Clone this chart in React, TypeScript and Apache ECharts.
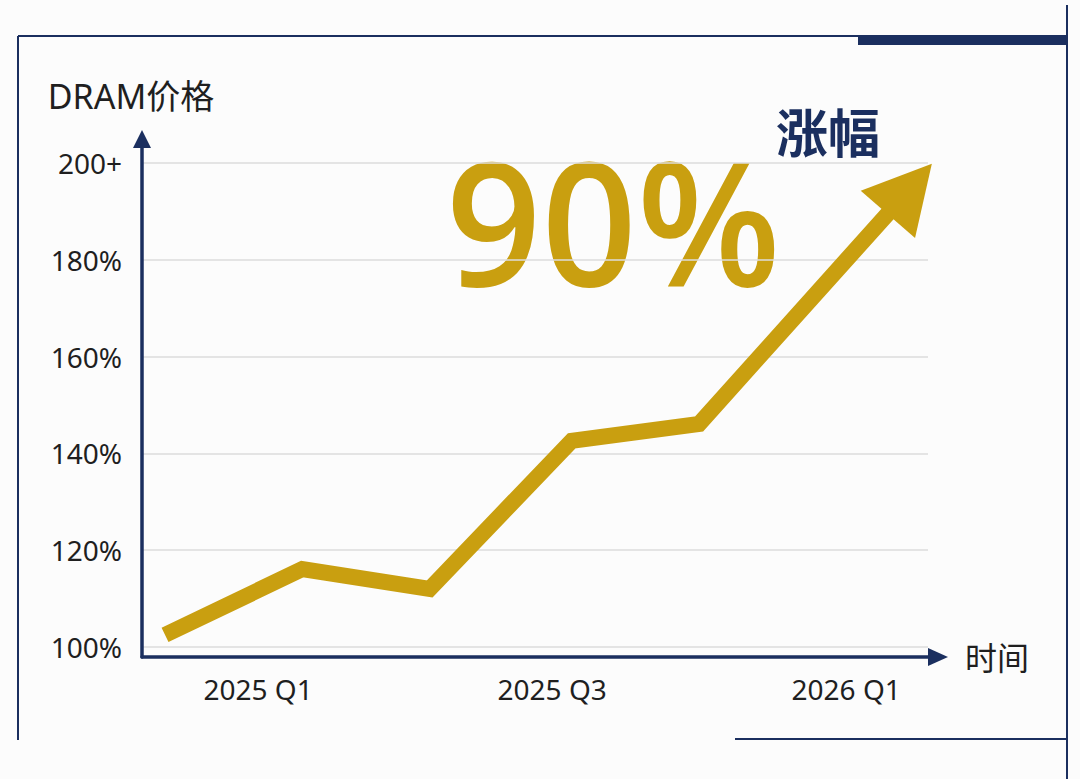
import React, { useEffect, useRef } from 'react';
import * as echarts from 'echarts';

// 时间轴：以 2025 Q1 为 0 的月份偏移
const tickMonths = [0, 6, 12];
const tickLabels = ['2025 Q1', '2025 Q3', '2026 Q1'];

// 折线拐点（月份偏移，价格指数 %）
const pointMonths = [-1.9, 0.9, 3.5, 6.4, 9.0, 13.3];
const pointPrices = [102.5, 116.1, 112.0, 142.6, 146.1, 194.6];

// 纵轴刻度
const priceTicks = [100, 120, 140, 160, 180, 200];
const priceLabels = ['100%', '120%', '140%', '160%', '180%', '200+'];

const NAVY = '#1b2f5f';
const GOLD = '#c99f10';
const TEXT = '#1f1f1f';
const FONT = '"Noto Sans", "Noto Sans CJK SC", sans-serif';

const App = () => {
  const chartRef = useRef<HTMLDivElement>(null);

  useEffect(() => {
    if (!chartRef.current) return;
    const chart = echarts.init(chartRef.current, undefined, { renderer: 'svg' });

    const lineData = pointMonths.map((m, i) => {
      const value = [m, pointPrices[i]];
      // 最后一个点画成箭头
      if (i === pointMonths.length - 1) {
        return {
          value,
          symbol: 'triangle',
          symbolSize: [72, 67],
          symbolRotate: -41,
          itemStyle: { color: GOLD },
        };
      }
      return { value };
    });

    const option = {
      animation: false,
      backgroundColor: '#fcfcfc',
      textStyle: { fontFamily: FONT },
      grid: [
        { left: 142, right: 152, top: 163, bottom: 132 },
        { left: 142, right: 142, top: 139, bottom: 122 },
      ],
      xAxis: [
        {
          type: 'value',
          gridIndex: 0,
          min: -2.37,
          max: 13.67,
          axisLine: { show: false },
          axisTick: { show: false },
          splitLine: { show: false },
          axisLabel: {
            customValues: tickMonths,
            fontSize: 28,
            color: TEXT,
            fontFamily: FONT,
            margin: 28,
            formatter: (v: number) => {
              const idx = tickMonths.indexOf(v);
              return idx >= 0 ? tickLabels[idx] : '';
            },
          },
        },
        {
          type: 'value',
          gridIndex: 1,
          min: 0,
          max: 1,
          axisLine: {
            show: true,
            symbol: ['none', 'triangle'],
            symbolSize: [18, 20],
            lineStyle: { color: NAVY, width: 3.5 },
          },
          axisTick: { show: false },
          axisLabel: { show: false },
          splitLine: { show: false },
          name: '时间',
          nameLocation: 'end',
          nameGap: 27,
          nameTextStyle: { fontSize: 32, color: TEXT, fontFamily: FONT },
        },
      ],
      yAxis: [
        {
          type: 'value',
          gridIndex: 0,
          min: 100,
          max: 200,
          interval: 20,
          axisLine: { show: false },
          axisTick: { show: false },
          splitLine: { lineStyle: { color: '#dcdcdc', width: 1.5 } },
          axisLabel: {
            fontSize: 28,
            color: TEXT,
            fontFamily: FONT,
            margin: 20,
            formatter: (v: number) => {
              const idx = priceTicks.indexOf(v);
              return idx >= 0 ? priceLabels[idx] : '';
            },
          },
        },
        {
          type: 'value',
          gridIndex: 1,
          min: 0,
          max: 1,
          axisLine: {
            show: true,
            symbol: ['none', 'triangle'],
            symbolSize: [18, 18],
            lineStyle: { color: NAVY, width: 3.5 },
          },
          axisTick: { show: false },
          axisLabel: { show: false },
          splitLine: { show: false },
          name: 'DRAM价格',
          nameLocation: 'end',
          nameGap: 26,
          nameTextStyle: {
            fontSize: 34,
            color: TEXT,
            fontFamily: FONT,
            padding: [0, 22, 0, 0],
          },
        },
      ],
      series: [
        {
          type: 'line',
          xAxisIndex: 0,
          yAxisIndex: 0,
          symbol: 'none',
          data: lineData,
          lineStyle: { color: GOLD, width: 16, join: 'miter', cap: 'butt' },
          itemStyle: { color: GOLD },
          z: 5,
        },
      ],
      graphic: [
        // 外框装饰线
        { type: 'line', shape: { x1: 18, y1: 36, x2: 18, y2: 740 }, style: { stroke: NAVY, lineWidth: 2 } },
        { type: 'line', shape: { x1: 18, y1: 36, x2: 860, y2: 36 }, style: { stroke: NAVY, lineWidth: 2 } },
        { type: 'rect', shape: { x: 858, y: 35, width: 209, height: 10 }, style: { fill: NAVY } },
        { type: 'line', shape: { x1: 1067, y1: 5, x2: 1067, y2: 779 }, style: { stroke: NAVY, lineWidth: 2 } },
        { type: 'line', shape: { x1: 735, y1: 739, x2: 1067, y2: 739 }, style: { stroke: NAVY, lineWidth: 2 } },
        // 标注
        {
          type: 'text',
          x: 446,
          y: 220,
          scaleX: 0.97,
          style: {
            text: '90%',
            fill: GOLD,
            font: '600 172px "Open Sans", "Noto Sans", sans-serif',
            align: 'left',
            verticalAlign: 'middle',
          },
        },
        {
          type: 'text',
          x: 776,
          y: 130,
          style: {
            text: '涨幅',
            fill: NAVY,
            font: 'bold 52px "Noto Sans CJK SC", sans-serif',
            align: 'left',
            verticalAlign: 'middle',
          },
        },
      ],
    };

    chart.setOption(option as any);

    return () => {
      chart.dispose();
    };
  }, []);

  return (
    <div
      ref={chartRef}
      style={{ position: 'fixed', left: 0, top: 0, width: '1080px', height: '779px' }}
    ></div>
  );
};

export default App;
